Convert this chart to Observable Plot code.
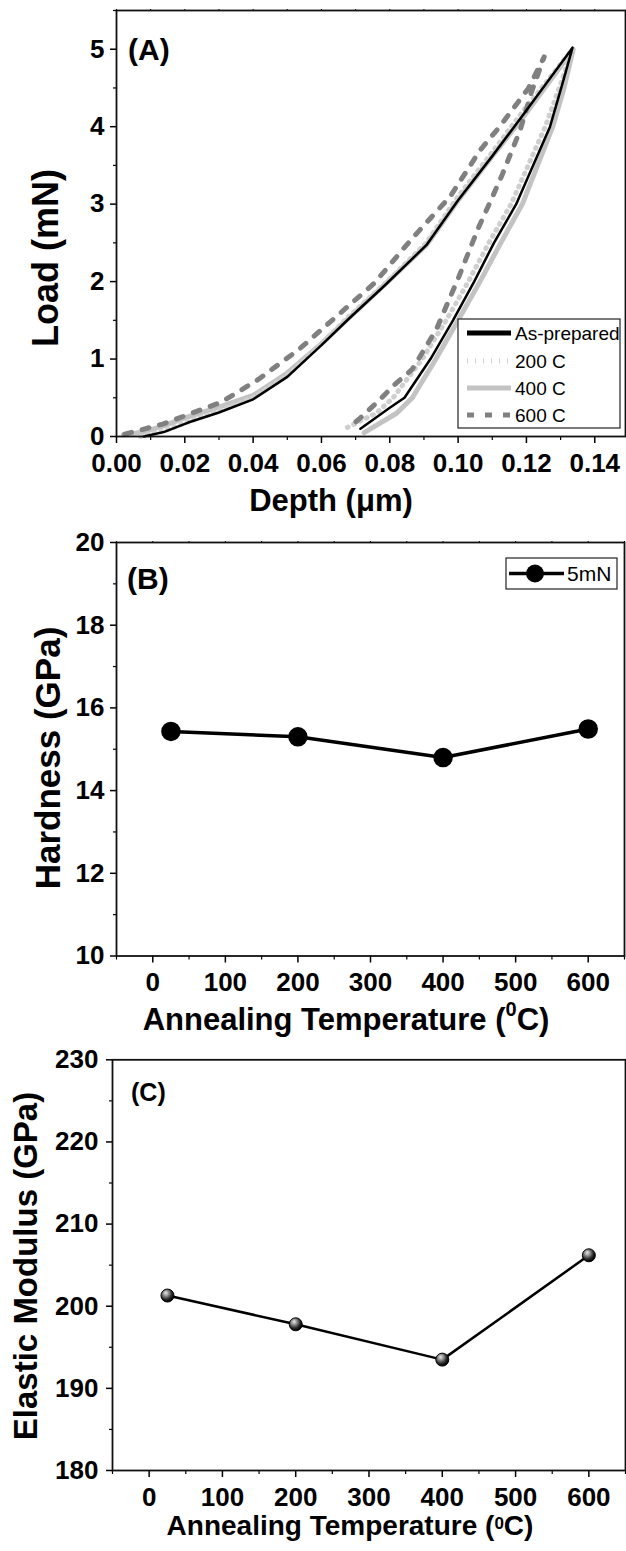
<!DOCTYPE html>
<html><head><meta charset="utf-8">
<script src="https://cdn.jsdelivr.net/npm/d3@7"></script>
<script src="https://cdn.jsdelivr.net/npm/@observablehq/plot@0.6"></script>
<style>
body{margin:0;background:#fff}
#chart svg{display:block}
</style>
</head><body><div id="chart"></div>
<script>
// ---------- Panel A data (Depth µm vs Load mN) ----------
const asPrepDepth = [0.008,0.014,0.021,0.030,0.040,0.050,0.060,0.068,0.0785,0.0907,0.100,0.110,0.119,0.1335,0.1305,0.1269,0.117,0.1105,0.1047,0.0985,0.0919,0.0843,0.0800,0.0714];
const asPrepLoad  = [0,0.06,0.18,0.31,0.48,0.77,1.18,1.52,1.95,2.47,3.05,3.62,4.15,5.02,4.55,4.0,3.0,2.5,2.0,1.5,1.0,0.5,0.37,0.1];
const c200Depth = [0.007,0.014,0.021,0.030,0.040,0.050,0.060,0.068,0.0785,0.0907,0.100,0.110,0.119,0.1335,0.1300,0.1255,0.1155,0.1090,0.1030,0.0965,0.0895,0.0810,0.0760,0.0668];
const c200Load  = [0,0.07,0.19,0.33,0.50,0.79,1.2,1.55,1.97,2.5,3.1,3.67,4.2,5.0,4.55,4.0,3.0,2.5,2.0,1.5,1.0,0.5,0.3,0.1];
const c400Depth = [0.002,0.008,0.014,0.020,0.030,0.040,0.050,0.060,0.068,0.0785,0.0907,0.100,0.110,0.119,0.1337,0.1310,0.1277,0.1188,0.1125,0.1064,0.1000,0.0935,0.0866,0.0820,0.0725];
const c400Load  = [0.02,0.06,0.14,0.24,0.38,0.53,0.82,1.2,1.53,1.96,2.47,3.05,3.62,4.12,5.0,4.5,4.0,3.0,2.5,2.0,1.5,1.0,0.5,0.3,0.05];
const c600Depth = [0.0024,0.0135,0.0305,0.0354,0.0416,0.0533,0.0644,0.0755,0.0866,0.0977,0.1065,0.1118,0.1205,0.1252,0.1215,0.1182,0.1129,0.1094,0.1059,0.1001,0.0936,0.0866,0.0814,0.0767,0.0714,0.0690];
const c600Load  = [0.03,0.16,0.44,0.57,0.74,1.12,1.55,1.98,2.56,3.10,3.70,3.98,4.49,4.90,4.45,3.96,3.38,3.03,2.69,2.05,1.38,0.87,0.67,0.46,0.24,0.15];
const seriesNames = ["As-prepared","200 C","400 C","600 C"];
const depthTicks = [0,0.02,0.04,0.06,0.08,0.10,0.12,0.14];
const loadTicks = [0,1,2,3,4,5];

// ---------- Panel B / C data ----------
const temperature = [25,200,400,600];
const hardness = [15.43,15.30,14.80,15.49];
const modulus = [201.3,197.8,193.5,206.2];
const tempTicks = [0,100,200,300,400,500,600];
const hardTicks = [10,12,14,16,18,20];
const modTicks = [180,190,200,210,220,230];
const legendB = "5mN";

const FONT = "'Liberation Sans', Arial, Helvetica, sans-serif";
const rows = (xs, ys) => xs.map((x,i)=>({x, y: ys[i]}));
const baseStyle = {fontFamily: FONT, fontSize: "26px", fontWeight: "bold", color: "#000", background: "#fff", overflow: "visible"};
const chart = document.getElementById("chart");

function addText(svg, {x, y, text, size, rotate=0, anchor="middle", weight="bold"}) {
  const t = d3.select(svg).append("text")
    .attr("transform", `translate(${x},${y})` + (rotate ? ` rotate(${rotate})` : ""))
    .attr("text-anchor", anchor)
    .attr("font-family", FONT).attr("font-size", size).attr("font-weight", weight)
    .attr("fill", "#000");
  if (Array.isArray(text)) {
    for (const p of text) {
      const s = t.append("tspan").text(p.t);
      if (p.sup) s.attr("dy", p.dy).attr("font-size", p.size);
      if (p.back) s.attr("dy", p.back);
    }
  } else t.text(text);
  return t;
}

// ================= Panel A =================
const minorDepth = d3.range(1, 15, 2).map(i => i/100);
const minorLoad = [0.5,1.5,2.5,3.5,4.5,5.5];
const svgA = Plot.plot({
  width: 626, height: 525,
  marginTop: 10, marginBottom: 89, marginLeft: 116, marginRight: 1,
  style: baseStyle,
  x: {domain: [0, 0.149]},
  y: {domain: [0, 5.5]},
  marks: [
    Plot.axisX({ticks: depthTicks, tickFormat: d3.format(".2f"), tickSize: 7, tickPadding: 10, strokeWidth: 1.5, label: null}),
    Plot.axisX({ticks: minorDepth, tickFormat: () => "", tickSize: 4, strokeWidth: 1.2, label: null}),
    Plot.axisX({anchor: "top", ticks: d3.range(0, 15).map(i=>i/100), tickFormat: () => "", tickSize: 2, strokeWidth: 1, label: null}),
    Plot.axisY({ticks: loadTicks, tickFormat: d3.format("d"), tickSize: 6, tickPadding: 6, strokeWidth: 1.5, label: null}),
    Plot.axisY({ticks: minorLoad, tickFormat: () => "", tickSize: 3, strokeWidth: 1.2, label: null}),
    Plot.line(rows(c400Depth, c400Load), {x: "x", y: "y", stroke: "#c3c3c3", strokeWidth: 5}),
    Plot.line(rows(c200Depth, c200Load), {x: "x", y: "y", stroke: "#cfcfcf", strokeWidth: 5, strokeDasharray: "1,6"}),
    Plot.line(rows(c600Depth, c600Load), {x: "x", y: "y", stroke: "#808080", strokeWidth: 5, strokeDasharray: "7,11"}),
    Plot.line(rows(asPrepDepth, asPrepLoad), {x: "x", y: "y", stroke: "#000", strokeWidth: 2.5}),
    Plot.frame({stroke: "#111", strokeWidth: 1.8})
  ]
});
chart.appendChild(svgA);
addText(svgA, {x: 58, y: 258, text: "Load (mN)", size: 36, rotate: -90});
addText(svgA, {x: 331, y: 511, text: "Depth (\u03bcm)", size: 31});
addText(svgA, {x: 128, y: 60, text: "(A)", size: 30, anchor: "start"});
{
  const g = d3.select(svgA).append("g");
  g.append("rect").attr("x", 458).attr("y", 319).attr("width", 162).attr("height", 109)
    .attr("fill", "#fff").attr("stroke", "#222").attr("stroke-width", 1.2);
  const styles = [
    {stroke: "#000", w: 5, dash: null},
    {stroke: "#cfcfcf", w: 5, dash: "1,7"},
    {stroke: "#c3c3c3", w: 5, dash: null},
    {stroke: "#808080", w: 5, dash: "7,11"}
  ];
  const ys = [333, 361, 388, 415];
  seriesNames.forEach((name, i) => {
    const l = g.append("line").attr("x1", 467).attr("x2", 511).attr("y1", ys[i]).attr("y2", ys[i])
      .attr("stroke", styles[i].stroke).attr("stroke-width", styles[i].w);
    if (styles[i].dash) l.attr("stroke-dasharray", styles[i].dash);
    g.append("text").attr("x", 515).attr("y", ys[i]).attr("dy", "0.36em")
      .attr("text-anchor", "start")
      .attr("font-family", FONT).attr("font-size", 19).attr("font-weight", "normal")
      .text(name);
  });
}

// ================= Panel B =================
const minorTemp = [-50,50,150,250,350,450,550,650];
const svgB = Plot.plot({
  width: 626, height: 515,
  marginTop: 17, marginBottom: 84.5, marginLeft: 116, marginRight: 2,
  style: baseStyle,
  x: {domain: [-50, 650]},
  y: {domain: [10, 20]},
  marks: [
    Plot.axisX({ticks: tempTicks, tickFormat: d3.format("d"), tickSize: 7, tickPadding: 10, strokeWidth: 1.5, label: null}),
    Plot.axisX({ticks: minorTemp, tickFormat: () => "", tickSize: 4, strokeWidth: 1.2, label: null}),
    Plot.axisX({anchor: "top", ticks: d3.range(-50, 651, 50), tickFormat: () => "", tickSize: 2, strokeWidth: 1, label: null}),
    Plot.axisY({ticks: hardTicks, tickFormat: d3.format("d"), tickSize: 6, tickPadding: 6, strokeWidth: 1.5, label: null}),
    Plot.axisY({ticks: [11,13,15,17,19], tickFormat: () => "", tickSize: 3, strokeWidth: 1.2, label: null}),
    Plot.line(rows(temperature, hardness), {x: "x", y: "y", stroke: "#000", strokeWidth: 3.5}),
    Plot.dot(rows(temperature, hardness), {x: "x", y: "y", r: 9, fill: "#000", stroke: "#000"}),
    Plot.frame({stroke: "#111", strokeWidth: 1.8})
  ]
});
chart.appendChild(svgB);
addText(svgB, {x: 60, y: 233, text: "Hardness (GPa)", size: 35, rotate: -90});
addText(svgB, {x: 346, y: 505, text: [{t: "Annealing Temperature ("}, {t: "0", sup: true, size: 20, dy: -14}, {t: "C)", back: 14}], size: 31});
addText(svgB, {x: 127, y: 64, text: "(B)", size: 30, anchor: "start"});
{
  const g = d3.select(svgB).append("g");
  g.append("rect").attr("x", 506).attr("y", 33).attr("width", 111).attr("height", 31)
    .attr("fill", "#fff").attr("stroke", "#222").attr("stroke-width", 1.2);
  g.append("line").attr("x1", 509).attr("x2", 564).attr("y1", 48.5).attr("y2", 48.5).attr("stroke", "#000").attr("stroke-width", 3.5);
  g.append("circle").attr("cx", 535).attr("cy", 48.5).attr("r", 9).attr("fill", "#000");
  g.append("text").attr("x", 567).attr("y", 48.5).attr("dy", "0.36em").attr("text-anchor", "start")
    .attr("font-family", FONT).attr("font-size", 21).attr("font-weight", "normal").text(legendB);
}

// ================= Panel C =================
const svgC = Plot.plot({
  width: 626, height: 511,
  marginTop: 19.3, marginBottom: 81, marginLeft: 112, marginRight: 1,
  style: baseStyle,
  x: {domain: [-50, 650]},
  y: {domain: [180, 230]},
  marks: [
    Plot.axisX({ticks: tempTicks, tickFormat: d3.format("d"), tickSize: 7, tickPadding: 10, strokeWidth: 1.5, label: null}),
    Plot.axisX({ticks: minorTemp, tickFormat: () => "", tickSize: 4, strokeWidth: 1.2, label: null}),
    Plot.axisY({ticks: modTicks, tickFormat: d3.format("d"), tickSize: 6, tickPadding: 8, strokeWidth: 1.5, label: null}),
    Plot.axisY({ticks: [185,195,205,215,225], tickFormat: () => "", tickSize: 3, strokeWidth: 1.2, label: null}),
    Plot.line(rows(temperature, modulus), {x: "x", y: "y", stroke: "#000", strokeWidth: 2.5}),
    Plot.dot(rows(temperature, modulus), {x: "x", y: "y", r: 6.5, fill: "url(#sphereGrad)", stroke: "#000", strokeWidth: 1}),
    Plot.frame({stroke: "#111", strokeWidth: 1.8})
  ]
});
chart.appendChild(svgC);
{
  const defs = d3.select(svgC).insert("defs", ":first-child");
  const rg = defs.append("radialGradient").attr("id", "sphereGrad")
    .attr("cx", "0.38").attr("cy", "0.35").attr("r", "0.65").attr("fx", "0.38").attr("fy", "0.3");
  rg.append("stop").attr("offset", "0").attr("stop-color", "#e8e8e8");
  rg.append("stop").attr("offset", "0.3").attr("stop-color", "#9a9a9a");
  rg.append("stop").attr("offset", "0.7").attr("stop-color", "#2a2a2a");
  rg.append("stop").attr("offset", "1").attr("stop-color", "#000");
}
addText(svgC, {x: 37, y: 226, text: "Elastic Modulus (GPa)", size: 33, rotate: -90});
addText(svgC, {x: 350, y: 495, text: [{t: "Annealing Temperature ("}, {t: "0", sup: true, size: 17, dy: -6}, {t: "C)", back: 6}], size: 28});
addText(svgC, {x: 131, y: 61, text: "(C)", size: 25, anchor: "start"});
</script></body></html>
